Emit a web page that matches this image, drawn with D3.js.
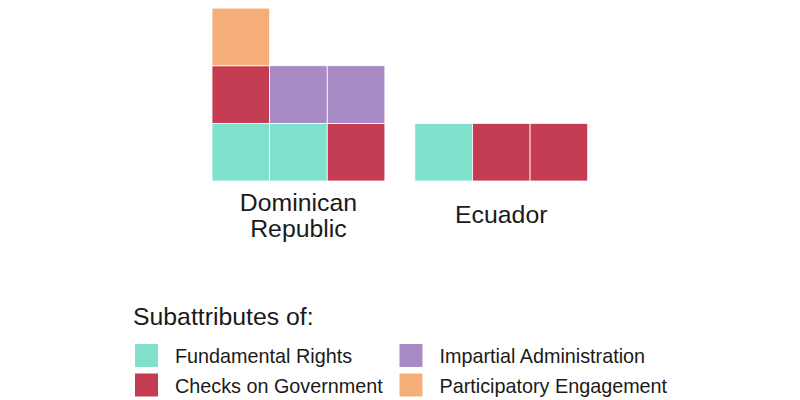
<!DOCTYPE html>
<html>
<head>
<meta charset="utf-8">
<script src="https://cdn.jsdelivr.net/npm/d3@7"></script>
<style>
  body { margin: 0; background: #fff; }
  svg { display: block; font-family: "Liberation Sans", Arial, sans-serif; }
</style>
</head>
<body>
<svg id="chart" width="800" height="400"></svg>
<script>
// ---- data ----
const countries = ["Dominican Republic", "Ecuador"];
const countryLabels = [["Dominican", "Republic"], ["Ecuador"]];
const categories = ["Fundamental Rights", "Checks on Government", "Impartial Administration", "Participatory Engagement"];
const colors = ["#7FE0CC", "#C43C52", "#A88BC4", "#F6AE78"];
const domRepCounts = [2, 2, 2, 1];
const ecuadorCounts = [1, 2, 0, 0];
const legendTitle = "Subattributes of:";
const nCols = 3;
const nRows = 3;

const countsByCountry = [domRepCounts, ecuadorCounts];

const svg = d3.select("#chart");

const xBand = d3.scaleBand().domain(countries).range([212, 587.7]).paddingInner(0.1476).paddingOuter(0);
const xCol = d3.scaleLinear().domain([0, nCols]).range([0, xBand.bandwidth()]);
const cellW = xBand.bandwidth() / nCols;
const yRow = d3.scaleLinear().domain([0, nRows]).range([181, 181 - nRows * cellW]);
const color = d3.scaleOrdinal().domain(categories).range(colors);

// build cells
const cells = [];
countries.forEach((c, ci) => {
  let idx = 0;
  countsByCountry[ci].forEach((n, k) => {
    for (let i = 0; i < n; i++) {
      cells.push({ country: c, cat: categories[k], col: idx % nCols, row: Math.floor(idx / nCols) });
      idx++;
    }
  });
});

svg.append("g").selectAll("rect").data(cells).join("rect")
  .attr("x", d => xBand(d.country) + xCol(d.col))
  .attr("y", d => yRow(d.row + 1))
  .attr("width", xCol(1) - xCol(0))
  .attr("height", yRow(0) - yRow(1))
  .attr("fill", d => color(d.cat))
  .attr("stroke", "#ffffff")
  .attr("stroke-width", 0.8);

// country labels
const labG = svg.append("g");
countries.forEach((c, ci) => {
  const lines = countryLabels[ci];
  const cx = xBand(c) + xBand.bandwidth() / 2;
  const t = labG.append("text")
    .attr("x", cx)
    .attr("text-anchor", "middle")
    .attr("font-size", "24.8px")
    .attr("fill", "#1a1a1a");
  const base = lines.length === 1 ? 223 : 211;
  lines.forEach((l, li) => {
    t.append("tspan").attr("x", cx).attr("y", base + li * 26).text(l);
  });
});

// legend
const leg = svg.append("g");
leg.append("text").attr("x", 133).attr("y", 325).attr("font-size", "24.8px").attr("fill", "#1a1a1a").text(legendTitle);

const legX = d3.scaleOrdinal().domain([0, 1]).range([135, 399.5]);
const legY = d3.scaleOrdinal().domain([0, 1]).range([344, 373.5]);
const items = leg.selectAll("g.item").data(categories).join("g").attr("class", "item")
  .attr("transform", (d, i) => `translate(${legX(Math.floor(i / 2))},${legY(i % 2)})`);
items.append("rect").attr("width", 23).attr("height", 23).attr("fill", d => color(d));
items.append("text").attr("x", 40).attr("y", 19).attr("font-size", "19.8px").attr("fill", "#1a1a1a").text(d => d);
</script>
</body>
</html>
